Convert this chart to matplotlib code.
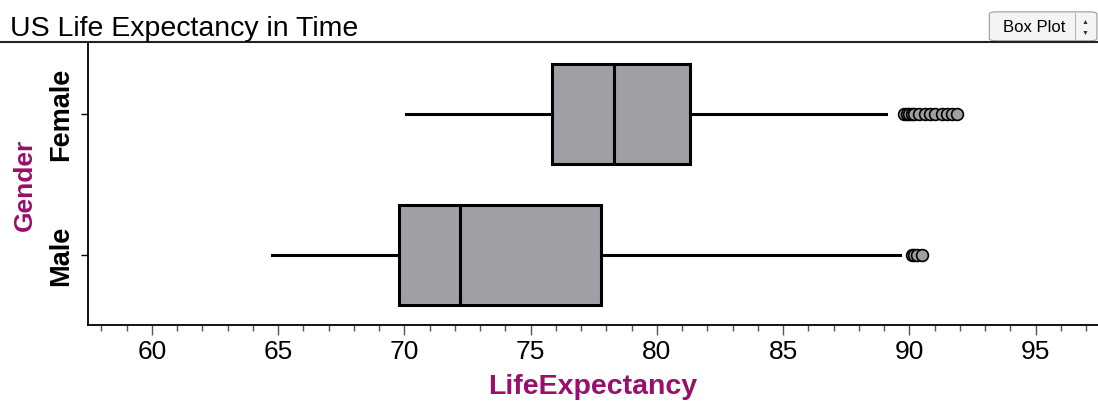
import matplotlib
matplotlib.use("Agg")
import matplotlib.pyplot as plt
from matplotlib.lines import Line2D
from matplotlib.patches import FancyBboxPatch
from matplotlib.ticker import MultipleLocator

plt.rcParams["font.family"] = ["Liberation Sans", "DejaVu Sans"]

# box plot summary values
genders = ["Male", "Female"]
whisker_low = [64.75, 70.05]
q1 = [69.78, 75.84]
median = [72.2, 78.3]
q3 = [77.78, 81.31]
whisker_high = [89.62, 89.07]
outliers = [
    [90.1, 90.2, 90.3, 90.5],
    [89.8, 89.9, 90.0, 90.1, 90.2, 90.4, 90.6, 90.8, 91.0, 91.3, 91.5, 91.7, 91.9],
]

purple = "#990f6b"
box_gray = "#a19fa5"

stats = []
for i in range(len(genders)):
    stats.append({
        "label": genders[i], "whislo": whisker_low[i], "q1": q1[i], "med": median[i],
        "q3": q3[i], "whishi": whisker_high[i], "fliers": outliers[i],
    })

fig = plt.figure(figsize=(10.98, 4.02), dpi=100)
ax = fig.add_axes([0.0801, 0.189, 0.9199, 0.704])

ax.bxp(stats, positions=[0, 1], widths=0.71, vert=False, patch_artist=True,
       showcaps=False,
       boxprops=dict(facecolor=box_gray, edgecolor="black", linewidth=2.2),
       medianprops=dict(color="black", linewidth=2.2),
       whiskerprops=dict(color="black", linewidth=2.2),
       flierprops=dict(marker="o", markerfacecolor=box_gray, markeredgecolor="black",
                       markersize=8.5, markeredgewidth=1.2))

ax.set_xlim(57.47, 97.47)
ax.set_ylim(-0.5, 1.51)
ax.xaxis.set_major_locator(MultipleLocator(5))
ax.xaxis.set_minor_locator(MultipleLocator(1))
ax.tick_params(axis="x", which="major", length=7, width=1, labelsize=19, pad=3, color="#555555")
ax.tick_params(axis="x", which="minor", length=4, width=1, color="#555555")
ax.set_yticks([0, 1])
ax.set_yticklabels(genders, rotation=90, va="center", fontsize=19.5, fontweight="bold")
ax.tick_params(axis="y", length=5, width=1, pad=5)

for s in ["top", "right"]:
    ax.spines[s].set_visible(False)
for s in ["left", "bottom"]:
    ax.spines[s].set_linewidth(1.3)

ax.set_xlabel("LifeExpectancy", fontsize=20.5, fontweight="bold", color=purple, labelpad=7)
ax.set_ylabel("Gender", fontsize=19, fontweight="bold", color=purple, labelpad=8)

fig.text(0.009, 0.928, "US Life Expectancy in Time", fontsize=20.5, va="center", ha="left")
fig.add_artist(Line2D([0, 1], [0.893, 0.893], color="#222222", linewidth=1.5))

# "Box Plot" selector button
btn = FancyBboxPatch((0.903, 0.898), 0.094, 0.068, boxstyle="round,pad=0.002,rounding_size=0.006",
                     transform=fig.transFigure, facecolor="#f4f4f4", edgecolor="#9a9a9a", linewidth=0.8)
fig.add_artist(btn)
fig.add_artist(Line2D([0.979, 0.979], [0.9, 0.964], color="#b8b8b8", linewidth=0.8))
fig.text(0.942, 0.931, "Box Plot", fontsize=12, ha="center", va="center")
fig.text(0.988, 0.943, "\u25b2", fontsize=5, ha="center", va="center", color="#333333")
fig.text(0.988, 0.918, "\u25bc", fontsize=5, ha="center", va="center", color="#333333")

fig.savefig("out.png", dpi=100)
